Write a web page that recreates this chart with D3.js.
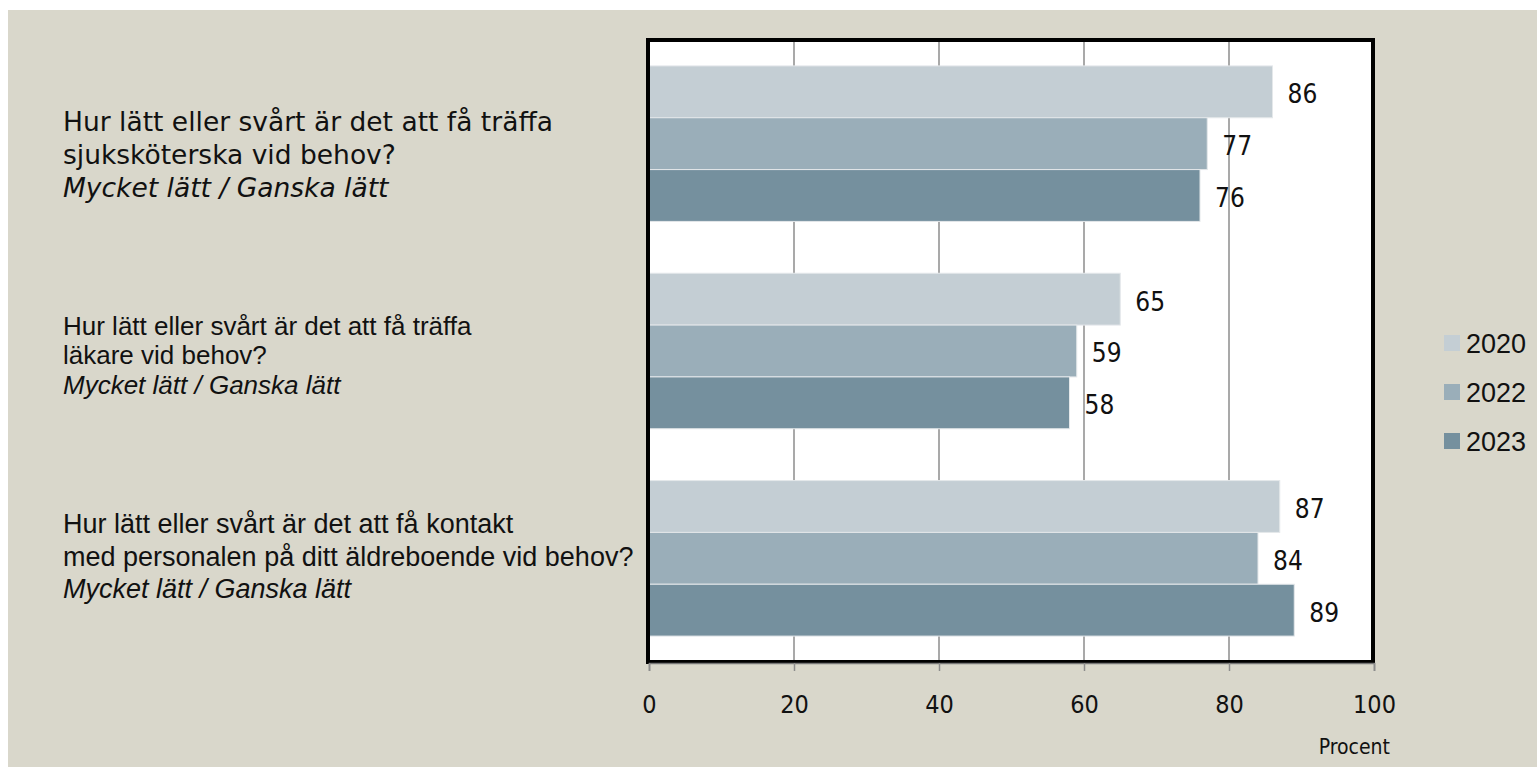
<!DOCTYPE html>
<html>
<head>
<meta charset="utf-8">
<script src="https://cdn.jsdelivr.net/npm/d3@7"></script>
<style>
  body { margin: 0; background: #fff; }
  svg { display: block; }
  .gothic { font-family: "DejaVu Sans Condensed", "DejaVu Sans", sans-serif; font-stretch: condensed; }
</style>
</head>
<body>
<div id="chart"></div>
<script>
var categories = ["sjukskoterska", "lakare", "personal"];
var labelLines = [
  ["Hur lätt eller svårt är det att få träffa", "sjuksköterska vid behov?", "Mycket lätt / Ganska lätt"],
  ["Hur lätt eller svårt är det att få träffa", "läkare vid behov?", "Mycket lätt / Ganska lätt"],
  ["Hur lätt eller svårt är det att få kontakt", "med personalen på ditt äldreboende vid behov?", "Mycket lätt / Ganska lätt"]
];
var years = ["2020", "2022", "2023"];
var values2020 = [86, 65, 87];
var values2022 = [77, 59, 84];
var values2023 = [76, 58, 89];
var xTicks = [0, 20, 40, 60, 80, 100];
var colors = ["#c4ced4", "#9aaeb9", "#75909e"];

var W = 1537, H = 767;
var svg = d3.select("#chart").append("svg").attr("width", W).attr("height", H);

svg.append("rect").attr("x", 8).attr("y", 10).attr("width", W - 8).attr("height", H - 10).attr("fill", "#d9d7cb");

var plot = {left: 649, right: 1374, top: 40, bottom: 662};

var x = d3.scaleLinear().domain([0, 100]).range([plot.left, plot.right]);
var y = d3.scaleBand().domain(categories).range([plot.top, plot.bottom]).paddingInner(0.25).paddingOuter(0.125);
var ySub = d3.scaleBand().domain(years).range([0, y.bandwidth()]);
var z = d3.scaleOrdinal().domain(years).range(colors);

var series = [values2020, values2022, values2023];
var data = [];
categories.forEach(function (c, i) {
  years.forEach(function (yr, j) {
    data.push({cat: c, year: yr, value: series[j][i]});
  });
});

// plot background
svg.append("rect").attr("x", plot.left).attr("y", plot.top)
  .attr("width", plot.right - plot.left).attr("height", plot.bottom - plot.top)
  .attr("fill", "#fff");

// gridlines
svg.append("g").selectAll("line")
  .data(xTicks.slice(1, -1))
  .enter().append("line")
  .attr("x1", function (d) { return x(d); }).attr("x2", function (d) { return x(d); })
  .attr("y1", plot.top).attr("y2", plot.bottom)
  .attr("stroke", "#8c8c8c").attr("stroke-width", 1.5);

// bars
svg.append("g").selectAll("rect")
  .data(data)
  .enter().append("rect")
  .attr("x", x(0))
  .attr("y", function (d) { return y(d.cat) + ySub(d.year); })
  .attr("width", function (d) { return x(d.value) - x(0); })
  .attr("height", ySub.bandwidth())
  .attr("fill", function (d) { return z(d.year); })
  .attr("stroke", "#e4e8ea").attr("stroke-width", 1);

// value labels
svg.append("g").selectAll("text")
  .data(data)
  .enter().append("text")
  .attr("class", "gothic")
  .attr("x", function (d) { return x(d.value) + 15; })
  .attr("y", function (d) { return y(d.cat) + ySub(d.year) + ySub.bandwidth() / 2 + 2; })
  .attr("dy", "0.36em")
  .style("font-size", "26px")
  .attr("fill", "#111")
  .text(function (d) { return d.value; });

// frame
svg.append("rect").attr("x", plot.left - 1).attr("y", plot.top)
  .attr("width", plot.right - plot.left).attr("height", plot.bottom - plot.top)
  .attr("fill", "none").attr("stroke", "#000").attr("stroke-width", 4);

// x axis
var axis = svg.append("g").attr("transform", "translate(0," + (plot.bottom + 1) + ")")
  .call(d3.axisBottom(x).tickValues(xTicks).tickSize(8).tickPadding(24));
axis.select(".domain").attr("stroke", "#777").attr("stroke-width", 1.5);
axis.selectAll(".tick line").attr("stroke", "#8c8c8c").attr("stroke-width", 1.5);
axis.selectAll(".tick text")
  .attr("class", "gothic")
  .style("font-size", "25px").attr("fill", "#111");

svg.append("text").attr("class", "gothic")
  .attr("x", 1390).attr("y", 754).attr("text-anchor", "end")
  .style("font-size", "21px").attr("fill", "#111").text("Procent");

// category labels
var labelFonts = [
  {family: "'DejaVu Sans', sans-serif", size: 26.5, lh: 33, shift: 11},
  {family: "'Liberation Sans', Arial, sans-serif", size: 26, lh: 29.5, shift: 4},
  {family: "'Liberation Sans', Arial, sans-serif", size: 27, lh: 32.5, shift: -2}
];
categories.forEach(function (c, i) {
  var f = labelFonts[i];
  var cy = y(c) + y.bandwidth() / 2 + f.shift;
  var t = svg.append("text")
    .style("font-family", f.family)
    .style("font-size", f.size + "px")
    .attr("fill", "#111");
  labelLines[i].forEach(function (line, k) {
    t.append("tspan").attr("x", 63)
      .attr("y", cy + (k - 1) * f.lh)
      .attr("dy", "0.35em")
      .style("font-style", k === 2 ? "italic" : "normal")
      .text(line);
  });
});

// legend
var legend = svg.append("g").selectAll("g")
  .data(years)
  .enter().append("g")
  .attr("transform", function (d, i) { return "translate(1444," + (343 + i * 49) + ")"; });
legend.append("rect").attr("x", 0).attr("y", -8).attr("width", 16).attr("height", 16)
  .attr("fill", function (d) { return z(d); });
legend.append("text").attr("x", 22).attr("dy", "0.36em")
  .style("font-family", "'Liberation Sans', Arial, sans-serif")
  .style("font-size", "27px").attr("fill", "#111")
  .text(function (d) { return d; });
</script>
</body>
</html>
